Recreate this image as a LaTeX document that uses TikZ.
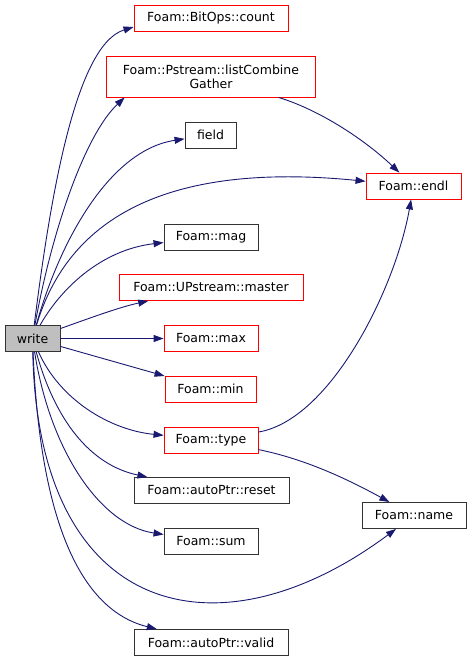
\documentclass[tikz,border=0pt]{standalone}
\usepackage{fontspec}
\setmainfont{DejaVu Sans}
\usetikzlibrary{arrows.meta}
\definecolor{edgeblue}{HTML}{191970}
\definecolor{boxgray}{HTML}{BFBFBF}
\begin{document}
\begin{tikzpicture}[x=1pt,y=-1pt,
func/.style={draw=black!80,fill=white,line width=.9pt,minimum height=26pt,inner sep=0pt,align=center,font=\fontsize{12.5}{14}\selectfont},
undoc/.style={func,draw=red},
arr/.style={-{Triangle[length=10pt,width=7pt]},edgeblue,line width=.9pt}]
\useasboundingbox (0,0) rectangle (471,661);
\node[func,fill=boxgray,minimum width=55pt](write) at (32.5,338.5){write};
\node[undoc,minimum width=154pt](count) at (211,18){Foam::BitOps::count};
\node[undoc,draw=none,minimum width=208pt,minimum height=40pt](gather) at (211,77){Foam::Pstream::listCombine\\Gather};
\draw[red,line width=.9pt](gather.south west) rectangle (gather.north east);
\node[func,minimum width=51pt](field) at (210.5,135){field};
\node[undoc,minimum width=95pt](endl) at (413.5,186){Foam::endl};
\node[func,minimum width=94pt](mag) at (211,237){Foam::mag};
\node[undoc,minimum width=184pt](master) at (211,287.5){Foam::UPstream::master};
\node[undoc,minimum width=94pt](max) at (211,338.5){Foam::max};
\node[undoc,minimum width=91pt](min) at (210.5,389){Foam::min};
\node[undoc,minimum width=94pt](type) at (211,440){Foam::type};
\node[func,minimum width=155pt](reset) at (211.5,490.5){Foam::autoPtr::reset};
\node[func,minimum width=94pt](sum) at (211,541.5){Foam::sum};
\node[func,minimum width=104pt](name) at (414,515.5){Foam::name};
\node[func,minimum width=154pt](valid) at (211,642.5){Foam::autoPtr::valid};
\draw[arr](write) .. controls (50,200) and (75,45) .. ([yshift=-9pt]count.west);
\draw[arr](write) .. controls (52,230) and (85,135) .. ([xshift=18pt]gather.south west);
\draw[arr](write) .. controls (60,240) and (110,150) .. (field);
\draw[arr](write) .. controls (65,230) and (150,160) .. (endl);
\draw[arr](write) .. controls (60,290) and (100,250) .. (mag);
\draw[arr](write) .. controls (90,318) and (120,307) .. (master);
\draw[arr](write)--(max);
\draw[arr](write)--(min);
\draw[arr](write) .. controls (60,400) and (110,430) .. (type);
\draw[arr](write) .. controls (55,420) and (90,465) .. (reset);
\draw[arr](write) .. controls (50,450) and (100,525) .. (sum);
\draw[arr](write) .. controls (38,620) and (220,660) .. (name);
\draw[arr](write) .. controls (40,520) and (80,610) .. (valid);
\draw[arr](gather) .. controls (320,110) and (365,140) .. (endl);
\draw[arr](type) .. controls (330,420) and (395,290) .. (endl);
\draw[arr](type) .. controls (300,458) and (340,475) .. (name);
\end{tikzpicture}
\end{document}
